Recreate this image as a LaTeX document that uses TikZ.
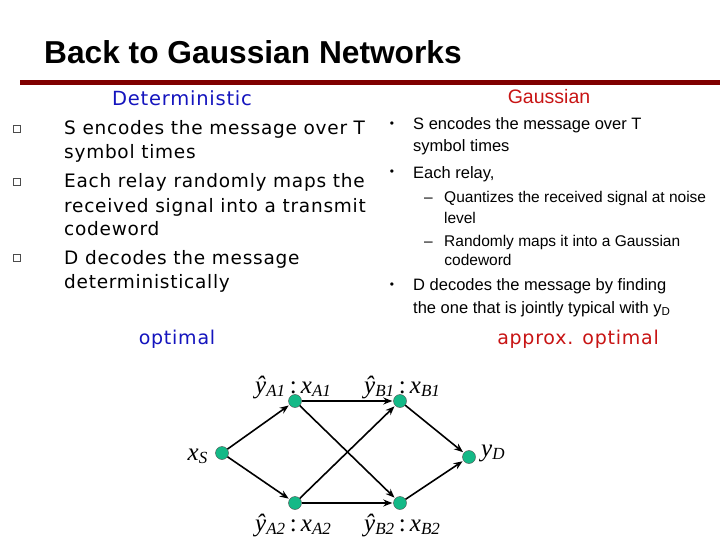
\documentclass[tikz,border=0pt]{standalone}
\usepackage{fontspec}
\setmainfont{Liberation Sans}
\newfontfamily\dv[LetterSpace=4]{DejaVu Sans}
\newfontfamily\tms{Liberation Serif}
\usetikzlibrary{arrows.meta}
\definecolor{dred}{RGB}{128,0,0}
\definecolor{dblue}{RGB}{20,20,190}
\definecolor{gred}{RGB}{200,20,20}
\definecolor{teal2}{RGB}{20,185,135}
\newcommand\sbx[1]{\textsubscript{\fontsize{17}{18}\selectfont #1}}
\tikzset{
  lt/.style={anchor=base west,inner sep=0pt,font=\dv\fontsize{18.5}{20}\selectfont},
  rt/.style={anchor=base west,inner sep=0pt,font=\fontsize{16.5}{18}\selectfont},
  rs/.style={anchor=base west,inner sep=0pt,font=\fontsize{15.5}{17}\selectfont},
  sq/.style={draw=black!70,line width=0.6pt,minimum size=7pt,inner sep=0pt},
  vtx/.style={circle,draw=black!70,fill=teal2,minimum size=13pt,inner sep=0pt},
  edge/.style={line width=1.6pt,-{Stealth[length=9pt,width=7pt]},shorten >=1pt},
  ml/.style={inner sep=0pt,font=\tms\itshape\fontsize{25}{26}\selectfont}
}
\begin{document}
\begin{tikzpicture}[x=1pt,y=-1pt]
\useasboundingbox (0,0) rectangle (720,540);
\fill[white] (0,0) rectangle (720,540);
\node[anchor=base west,inner sep=0pt,font=\bfseries\fontsize{31.7}{33}\selectfont] (title) at (44,64) {Back to Gaussian Networks};
\fill[dred] (20,80) rectangle (720,85);
\node[anchor=base,inner sep=0pt,font=\dv\fontsize{19.5}{20}\selectfont,text=dblue] (det) at (182,106) {Deterministic};
\node[anchor=base,inner sep=0pt,font=\fontsize{19.5}{20}\selectfont,text=gred] (gau) at (549,104) {Gaussian};
% left list
\node[sq] (s1) at (17,129) {};
\node[sq] (s2) at (17,182) {};
\node[sq] (s3) at (17,258) {};
\node[lt] (l1) at (64,135) {S encodes the message over T};
\node[lt] (l2) at (64,159) {symbol times};
\node[lt] (l3) at (64,188) {Each relay randomly maps the};
\node[lt] (l4) at (64,212) {received signal into a transmit};
\node[lt] (l5) at (64,236) {codeword};
\node[lt] (l6) at (64,264) {D decodes the message};
\node[lt] (l7) at (64,288) {deterministically};
% right list
\node[anchor=base,inner sep=0pt,font=\fontsize{12}{14}\selectfont] (b1) at (392,128) {•};
\node[anchor=base,inner sep=0pt,font=\fontsize{12}{14}\selectfont] (b2) at (392,176) {•};
\node[anchor=base,inner sep=0pt,font=\fontsize{12}{14}\selectfont] (b3) at (392,288) {•};
\node[rt] (r1) at (413,130) {S encodes the message over T};
\node[rt] (r2) at (413,152) {symbol times};
\node[rt] (r3) at (413,179) {Each relay,};
\node[rs] (d1) at (424,203) {–};
\node[rs] (q1) at (444,203) {Quantizes the received signal at noise};
\node[anchor=base,inner sep=0pt,font=\fontsize{15.5}{17}\selectfont] (q2) at (460,223) {level};
\node[rs] (d2) at (424,246) {–};
\node[rs] (q3) at (444,246) {Randomly maps it into a Gaussian};
\node[anchor=base,inner sep=0pt,font=\fontsize{15.5}{17}\selectfont] (q4) at (478,265) {codeword};
\node[rt] (r4) at (413,290) {D decodes the message by finding};
\node[rt] (r5) at (413,313) {the one that is jointly typical with y\textsubscript{D}};
\node[anchor=base,inner sep=0pt,font=\dv\fontsize{19}{20}\selectfont,text=dblue] (opt) at (177,344) {optimal};
\node[anchor=base,inner sep=0pt,font=\dv\fontsize{19}{20}\selectfont,text=gred] (aopt) at (578,344) {approx. optimal};
% graph
\node[vtx] (xs) at (222,453) {};
\node[vtx] (a1) at (295,401) {};
\node[vtx] (b1n) at (400,401) {};
\node[vtx] (a2) at (295,503) {};
\node[vtx] (b2n) at (400,503) {};
\node[vtx] (yd) at (469,457) {};
\draw[edge] (xs) -- (a1);
\draw[edge] (xs) -- (a2);
\draw[edge] (a1) -- (b1n);
\draw[edge] (a1) -- (b2n);
\draw[edge] (a2) -- (b1n);
\draw[edge] (a2) -- (b2n);
\draw[edge] (b1n) -- (yd);
\draw[edge] (b2n) -- (yd);
\node[ml,anchor=base east] (lxs) at (208,460) {x\sbx{S}};
\node[ml,anchor=base west] (la1) at (255,393) {ŷ\sbx{A1}\,\upshape:\,\itshape x\sbx{A1}};
\node[ml,anchor=base west] (lb1) at (364,393) {ŷ\sbx{B1}\,\upshape:\,\itshape x\sbx{B1}};
\node[ml,anchor=base west] (la2) at (255,531) {ŷ\sbx{A2}\,\upshape:\,\itshape x\sbx{A2}};
\node[ml,anchor=base west] (lb2) at (364,531) {ŷ\sbx{B2}\,\upshape:\,\itshape x\sbx{B2}};
\node[ml,anchor=base west] (lyd) at (481,456) {y\sbx{D}};
\end{tikzpicture}
\end{document}
